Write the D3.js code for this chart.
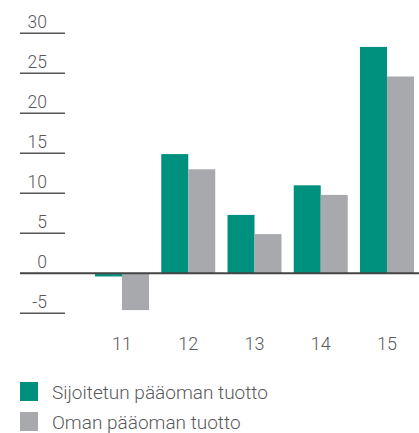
<!DOCTYPE html>
<html><head><meta charset="utf-8">
<script src="https://cdn.jsdelivr.net/npm/d3@7"></script>
<style>
html,body{margin:0;padding:0;background:#fff;}
text{font-family:Roboto,"Liberation Sans",sans-serif;font-weight:300;fill:#58595b;}
</style></head>
<body><svg id="c" width="419" height="433"></svg>
<script>
const categories = ["11","12","13","14","15"];
const sijoitetun = [-0.4, 14.9, 7.3, 11.0, 28.3];
const oman = [-4.6, 13.0, 4.9, 9.8, 24.6];
const yTicks = [-5, 0, 5, 10, 15, 20, 25, 30];
const seriesNames = ["Sijoitetun pääoman tuotto", "Oman pääoman tuotto"];
const colors = ["#00917e", "#a8a9ad"];

const svg = d3.select("#c");
const y = d3.scaleLinear().domain([-5, 30]).range([313.3, 33.3]);
const x = d3.scaleBand().domain(categories).range([88.9, 420.1]).paddingInner(0.185).paddingOuter(0.0925);
const xs = d3.scaleBand().domain([0,1]).range([0, x.bandwidth()]);

const yg = svg.append("g");
yTicks.forEach(t => {
  if (t !== 0) {
    yg.append("line").attr("x1", 20).attr("x2", 65).attr("y1", y(t)).attr("y2", y(t))
      .attr("stroke", "#555").attr("stroke-width", 1.6);
  }
  yg.append("text").attr("x", 47).attr("y", y(t) - 5).attr("text-anchor", "end")
    .attr("font-size", 17.5).text(t);
});

const series = [sijoitetun, oman];
series.forEach((vals, si) => {
  svg.append("g").selectAll("rect").data(vals).join("rect")
    .attr("x", (d, i) => x(categories[i]) + xs(si))
    .attr("width", xs.bandwidth())
    .attr("y", d => Math.min(y(d), y(0)))
    .attr("height", d => Math.abs(y(d) - y(0)))
    .attr("fill", colors[si]);
});

svg.append("line").attr("x1", 20).attr("x2", 419).attr("y1", y(0)).attr("y2", y(0))
  .attr("stroke", "#444").attr("stroke-width", 2);

svg.append("g").selectAll("text").data(categories).join("text")
  .attr("x", d => x(d) + x.bandwidth() / 2).attr("y", 350)
  .attr("text-anchor", "middle").attr("font-size", 18).text(d => d);

const lg = svg.append("g");
seriesNames.forEach((n, i) => {
  lg.append("rect").attr("x", 20).attr("y", 382 + i * 30).attr("width", 18).attr("height", 19).attr("fill", colors[i]);
  lg.append("text").attr("x", 52).attr("y", 399 + i * 29.5).attr("font-size", 19).text(n);
});
</script></body></html>
